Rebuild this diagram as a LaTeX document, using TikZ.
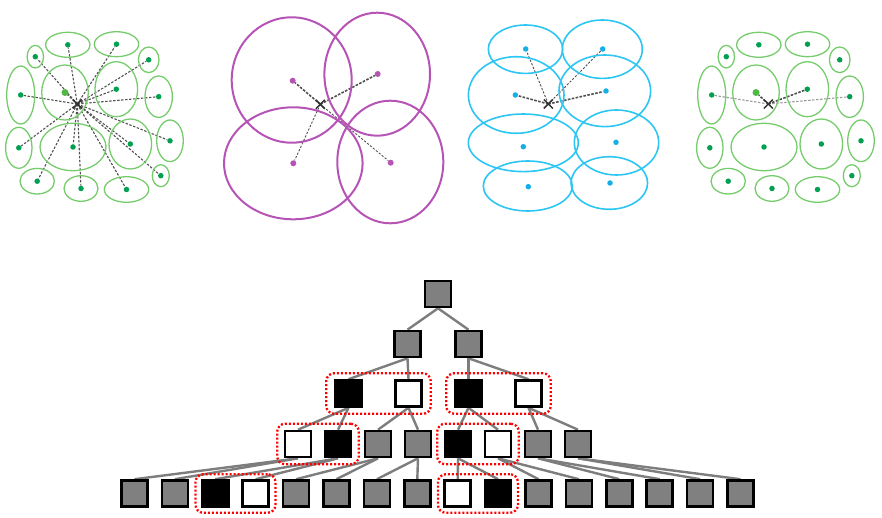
\documentclass[tikz,border=0pt]{standalone}
\usetikzlibrary{shapes.misc,fit,backgrounds}
\definecolor{ggreen}{RGB}{118,204,108}
\definecolor{gdot}{RGB}{0,160,80}
\definecolor{glight}{RGB}{80,185,70}
\definecolor{mag}{RGB}{182,84,182}
\definecolor{cyn}{RGB}{45,198,242}
\definecolor{cdot}{RGB}{20,175,230}
\definecolor{boxgray}{RGB}{128,128,128}
\definecolor{edgegray}{RGB}{125,125,125}
\definecolor{linegray}{RGB}{80,80,80}
\tikzset{
  gell/.style={draw=ggreen, line width=1.3pt},
  mell/.style={draw=mag, line width=2pt},
  cell/.style={draw=cyn, line width=1.6pt},
  gdotst/.style={circle, fill=gdot, inner sep=0pt, minimum size=5.5pt},
  gdotlt/.style={circle, fill=glight, inner sep=0pt, minimum size=7pt},
  mdot/.style={circle, fill=mag, inner sep=0pt, minimum size=6pt},
  cdotst/.style={circle, fill=cdot, inner sep=0pt, minimum size=5.5pt},
  xmark/.style={cross out, draw=black!80, line width=1.5pt, minimum size=7.5pt, inner sep=0pt},
  conn/.style={draw=linegray, line width=1.1pt, dash pattern=on 2.4pt off 1.6pt},
  connthin/.style={draw=linegray, line width=0.9pt, dash pattern=on 2.2pt off 1.6pt},
  connthick/.style={draw=linegray, line width=1.6pt, dash pattern=on 2.6pt off 1.4pt},
  gbox/.style={draw=black, line width=2.6pt, fill=boxgray, minimum size=26pt, inner sep=0pt},
  bbox/.style={gbox, fill=black},
  wbox/.style={gbox, fill=white},
  tedge/.style={draw=edgegray, line width=2.4pt},
  grp/.style={draw=red, line width=2.3pt, dash pattern=on 2pt off 2pt, rounded corners=8pt, inner ysep=6pt},
  greenpanel/.pic={
    \foreach \n/\cx/\cy/\rx/\ry/\st in {
      1/35.3/56.7/8.2/11.3/gdotst,
      2/67.8/44.8/22.2/12.5/gdotst,
      3/116.5/44.2/22.2/12.5/gdotst,
      4/148.7/59.8/10.3/12.8/gdotst,
      5/20.7/95/14/29/gdotst,
      6/65/92.5/23.3/27.5/gdotlt,
      7/116.3/89.2/21.3/27.5/gdotst,
      8/158.7/96.7/13.7/20.7/gdotst,
      9/18.8/147.8/13.2/20.5/gdotst,
      10/73/147/33/23.7/gdotst,
      11/130.3/144/21.3/25/gdotst,
      12/170/140.8/13.3/20.8/gdotst,
      13/160.8/175.7/8.5/11/gdotst,
      14/37.2/181.2/17.2/12.8/gdotst,
      15/81/188.5/17/12.8/gdotst,
      16/126.5/189.5/22.2/12.8/gdotst}{
      \draw[gell] (\cx,\cy) ellipse [x radius=\rx, y radius=\ry];
      \node[style=\st] (-d\n) at (\cx,\cy) {};
    }
    \node[xmark] (-x) at (77.3,104) {};
  }
}
\begin{document}
\begin{tikzpicture}[x=1pt,y=-1pt]
\useasboundingbox (0,0) rectangle (882,518);

% ---------- panel 1 and panel 4 (green) ----------
\pic (P1) at (0,0) {greenpanel};
\pic (P4) at (691,0) {greenpanel};
\begin{pgfonlayer}{background}
  \foreach \i in {1,...,16} \draw[conn] (P1-x.center) -- (P1-d\i);
  \foreach \i in {5,8} \draw[conn, draw=black!40] (P4-x.center) -- (P4-d\i);
  \foreach \i in {6,7} \draw[connthick] (P4-x.center) -- (P4-d\i);
\end{pgfonlayer}

% ---------- panel 2 (magenta) ----------
\foreach \n/\cx/\cy/\rx/\ry/\dx/\dy in {
  1/291.7/80/60/62.7/292.7/80.7,
  2/377.2/74.2/52.8/61.5/377.7/74,
  3/293.3/163.3/69.3/56/293.3/163.3,
  4/390.3/162/53/61.3/390.7/162.7}{
  \draw[mell] (\cx,\cy) ellipse [x radius=\rx, y radius=\ry];
  \node[mdot] (m\n) at (\dx,\dy) {};
}
\node[xmark] (mx) at (320.3,104.3) {};
\begin{pgfonlayer}{background}
  \draw[connthick] (mx.center) -- (m1);
  \draw[connthick] (mx.center) -- (m2);
  \draw[connthin] (mx.center) -- (m3);
  \draw[connthin] (mx.center) -- (m4);
\end{pgfonlayer}

% ---------- panel 3 (cyan) ----------
\foreach \n/\cx/\cy/\rx/\ry/\dx/\dy in {
  1/525.5/49.2/37.2/24.2/525.7/49,
  2/602.3/49.2/40/29.2/602.7/49,
  3/516.2/95/47.8/38.3/515.3/95,
  4/604.8/90.8/45.8/35.8/606/91,
  5/523.3/142.8/55/28.8/523.3/146.7,
  6/616.5/142.5/42.2/32.5/616/142.3,
  7/527.8/186/44.5/25/528.3/186.7,
  8/609.3/183/38.3/26.3/610/183}{
  \draw[cell] (\cx,\cy) ellipse [x radius=\rx, y radius=\ry];
  \node[cdotst] (c\n) at (\dx,\dy) {};
}
\node[xmark] (cx) at (548.3,104) {};
\begin{pgfonlayer}{background}
  \draw[connthin] (cx.center) -- (c1);
  \draw[connthin] (cx.center) -- (c2);
  \draw[connthick] (cx.center) -- (c3);
  \draw[connthick] (cx.center) -- (c4);
\end{pgfonlayer}

% ---------- tree ----------
\node[gbox] (r) at (438,294) {};
\node[gbox] (a1) at (407.5,344) {};
\node[gbox] (a2) at (468.5,344) {};
\node[bbox] (b1) at (348.5,393.5) {};
\node[wbox] (b2) at (408.5,393.5) {};
\node[bbox] (b3) at (468.5,393.5) {};
\node[wbox] (b4) at (528.5,393.5) {};
\foreach \i/\s in {1/wbox,2/bbox,3/gbox,4/gbox,5/bbox,6/wbox,7/gbox,8/gbox}
  \node[style=\s] (t\i) at ({298+40*(\i-1)},444) {};
\foreach \i/\s in {1/gbox,2/gbox,3/bbox,4/wbox,5/gbox,6/gbox,7/gbox,8/gbox,
                   9/wbox,10/bbox,11/gbox,12/gbox,13/gbox,14/gbox,15/gbox,16/gbox}
  \node[style=\s] (u\i) at ({134.5+40.4*(\i-1)},493.5) {};

\begin{pgfonlayer}{background}
  \draw[tedge] (r.south) -- (a1.north);
  \draw[tedge] (r.south) -- (a2.north);
  \draw[tedge] (a1.south) -- (b1.north);
  \draw[tedge] (a1.south) -- (b2.north);
  \draw[tedge] (a2.south) -- (b3.north);
  \draw[tedge] (a2.south) -- (b4.north);
  \foreach \p/\c in {1/1,1/2,2/3,2/4,3/5,3/6,4/7,4/8}
    \draw[tedge] (b\p.south) -- (t\c.north);
  \foreach \p/\c in {1/1,1/2,2/3,2/4,3/5,3/6,4/7,4/8,5/9,5/10,6/11,6/12,7/13,7/14,8/15,8/16}
    \draw[tedge] (t\p.south) -- (u\c.north);
\end{pgfonlayer}

\node[grp, inner xsep=8pt, fit=(b1)(b2)] (g1) {};
\node[grp, inner xsep=8pt, fit=(b3)(b4)] (g2) {};
\node[grp, inner xsep=6.5pt, fit=(t1)(t2)] (g3) {};
\node[grp, inner xsep=6.5pt, fit=(t5)(t6)] (g4) {};
\node[grp, inner xsep=5.5pt, inner ysep=5pt, fit=(u3)(u4)] (g5) {};
\node[grp, inner xsep=5.5pt, inner ysep=5pt, fit=(u9)(u10)] (g6) {};
\end{tikzpicture}
\end{document}
